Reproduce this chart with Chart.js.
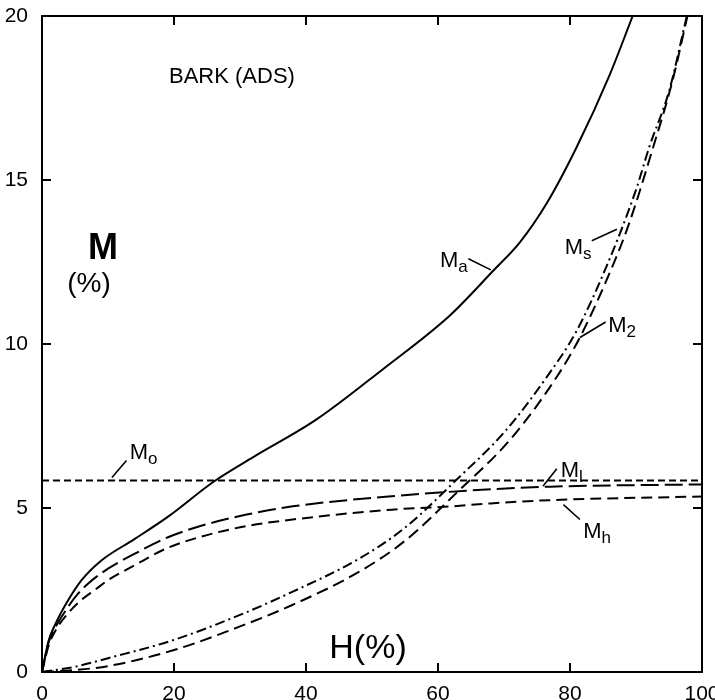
<!DOCTYPE html>
<html>
<head>
<meta charset="utf-8">
<script src="https://cdn.jsdelivr.net/npm/chart.js@4/dist/chart.umd.min.js"></script>
<style>
  body { margin: 0; background: #fff; }
  #wrap { width: 715px; height: 700px; }
</style>
</head>
<body>
<div id="wrap"><canvas id="chart" width="715" height="700"></canvas></div>
<script>
// relative humidity H (%) and moisture content M (%)
const maH = [0, 1, 2, 4, 6, 9, 14, 19, 26, 32, 41.6, 51.7, 61.8, 68.4, 72.4, 76.5, 81, 86, 89.5];
const maM = [0, 0.95, 1.45, 2.2, 2.8, 3.4, 4.05, 4.72, 5.8, 6.55, 7.7, 9.24, 10.87, 12.24, 13.1, 14.3, 16.0, 18.2, 20];

const mlH = [0, 1, 2, 4, 5.3, 7, 10, 14, 19, 24, 31, 38, 53, 68, 77, 100];
const mlM = [0, 0.9, 1.35, 2.0, 2.35, 2.7, 3.15, 3.6, 4.1, 4.45, 4.8, 5.05, 5.36, 5.57, 5.65, 5.72];

const mhH = [0, 1, 2, 4, 6, 8, 10, 14, 19, 24, 31, 38, 53, 62, 68, 77, 100];
const mhM = [0, 0.8, 1.25, 1.8, 2.2, 2.5, 2.8, 3.25, 3.78, 4.12, 4.45, 4.65, 4.95, 5.05, 5.14, 5.24, 5.35];

const msH = [0, 5, 10, 20, 30, 38, 48, 55, 63, 70, 76.5, 81, 85.6, 90, 92, 95, 97.7];
const msM = [0, 0.16, 0.42, 0.98, 1.74, 2.45, 3.45, 4.4, 5.9, 7.3, 9.0, 10.4, 12.4, 14.7, 16.0, 17.7, 20];

const m2H = [0, 5, 10, 20, 30, 38, 48, 55, 63, 71, 78, 81.5, 86.5, 89, 92.6, 95.5, 97.8];
const m2M = [0, 0.06, 0.18, 0.67, 1.39, 2.05, 3.05, 4.0, 5.5, 7.1, 9.0, 10.2, 12.4, 13.7, 16, 18, 20];

const m0H = [0, 100];
const m0M = [5.84, 5.84];

const xTicks = [0, 20, 40, 60, 80, 100];
const yTicks = [0, 5, 10, 15, 20];

const pts = (hs, ms) => hs.map((h, i) => ({ x: h, y: ms[i] }));

// curve labels (data units) and their leader lines
const curveLabels = [
  { main: 'M', sub: 'a', x: 60.3, y: 12.35 },
  { main: 'M', sub: 's', x: 79.2, y: 12.75 },
  { main: 'M', sub: '2', x: 85.8, y: 10.37 },
  { main: 'M', sub: 'o', x: 13.3, y: 6.5 },
  { main: 'M', sub: 'l', x: 78.6, y: 5.96 },
  { main: 'M', sub: 'h', x: 82.0, y: 4.1 },
];
const leaders = [
  [64.6, 12.6, 68.0, 12.26],
  [83.3, 13.15, 87.1, 13.5],
  [85.4, 10.67, 81.5, 10.2],
  [10.6, 5.93, 12.8, 6.45],
  [75.9, 5.66, 78.0, 6.2],
  [79.0, 5.1, 81.5, 4.65],
];

const FONT = '"Liberation Sans", Arial, sans-serif';

const framePlugin = {
  id: 'frame',
  afterDatasetsDraw(chart) {
    const { ctx, chartArea: a, scales: { x, y } } = chart;
    ctx.save();
    ctx.strokeStyle = '#000';
    ctx.lineWidth = 2;
    ctx.strokeRect(a.left, a.top, a.right - a.left, a.bottom - a.top);

    // inward tick marks on all four sides
    ctx.beginPath();
    xTicks.slice(1, -1).forEach(v => {
      const px = x.getPixelForValue(v);
      ctx.moveTo(px, a.bottom); ctx.lineTo(px, a.bottom - 9);
      ctx.moveTo(px, a.top); ctx.lineTo(px, a.top + 9);
    });
    yTicks.slice(1, -1).forEach(v => {
      const py = y.getPixelForValue(v);
      ctx.moveTo(a.left, py); ctx.lineTo(a.left + 9, py);
      ctx.moveTo(a.right, py); ctx.lineTo(a.right - 9, py);
    });
    ctx.stroke();

    // leaders
    ctx.lineWidth = 1.6;
    ctx.beginPath();
    leaders.forEach(l => {
      ctx.moveTo(x.getPixelForValue(l[0]), y.getPixelForValue(l[1]));
      ctx.lineTo(x.getPixelForValue(l[2]), y.getPixelForValue(l[3]));
    });
    ctx.stroke();

    ctx.fillStyle = '#000';
    ctx.textBaseline = 'alphabetic';
    ctx.textAlign = 'left';
    curveLabels.forEach(l => {
      const px = x.getPixelForValue(l.x);
      const py = y.getPixelForValue(l.y);
      ctx.font = '22px ' + FONT;
      ctx.fillText(l.main, px, py);
      const w = ctx.measureText(l.main).width;
      ctx.font = '17px ' + FONT;
      ctx.fillText(l.sub, px + w, py + 5);
    });

    // titles
    ctx.font = '22px ' + FONT;
    ctx.fillText('BARK (ADS)', 169, 83);
    ctx.textAlign = 'center';
    ctx.font = 'bold 36px ' + FONT;
    ctx.fillText('M', 103, 259);
    ctx.font = '28px ' + FONT;
    ctx.fillText('(%)', 89, 292);
    ctx.font = '34px ' + FONT;
    ctx.fillText('H(%)', 368, 658);
    ctx.restore();
  }
};

const line = (data, dash) => ({
  data: data,
  borderColor: '#000',
  borderWidth: 2,
  borderDash: dash,
  pointRadius: 0,
  fill: false,
  cubicInterpolationMode: 'monotone',
});

new Chart(document.getElementById('chart').getContext('2d'), {
  type: 'line',
  data: {
    datasets: [
      line(pts(maH, maM), []),
      line(pts(mlH, mlM), [18, 6]),
      line(pts(mhH, mhM), [11, 6]),
      line(pts(msH, msM), [10, 4, 2, 4]),
      line(pts(m2H, m2M), [12, 6]),
      line(pts(m0H, m0M), [7, 4]),
    ],
  },
  options: {
    responsive: false,
    animation: false,
    layout: { padding: { top: 16, right: 13, left: 0, bottom: 0 } },
    plugins: { legend: { display: false }, tooltip: { enabled: false } },
    scales: {
      x: {
        type: 'linear', min: 0, max: 100,
        grid: { display: false }, border: { display: false },
        afterBuildTicks: s => { s.ticks = xTicks.map(v => ({ value: v })); },
        afterFit: s => { s.height = 28; s.paddingLeft = 0; s.paddingRight = 0; },
        ticks: { color: '#000', padding: 2, maxRotation: 0, font: { family: FONT, size: 21 } },
      },
      y: {
        type: 'linear', min: 0, max: 20,
        grid: { display: false }, border: { display: false },
        afterBuildTicks: s => { s.ticks = yTicks.map(v => ({ value: v })); },
        afterFit: s => { s.width = 42; s.paddingTop = 0; s.paddingBottom = 0; },
        ticks: { color: '#000', padding: 6, font: { family: FONT, size: 21 } },
      },
    },
  },
  plugins: [framePlugin],
});
</script>
</body>
</html>
